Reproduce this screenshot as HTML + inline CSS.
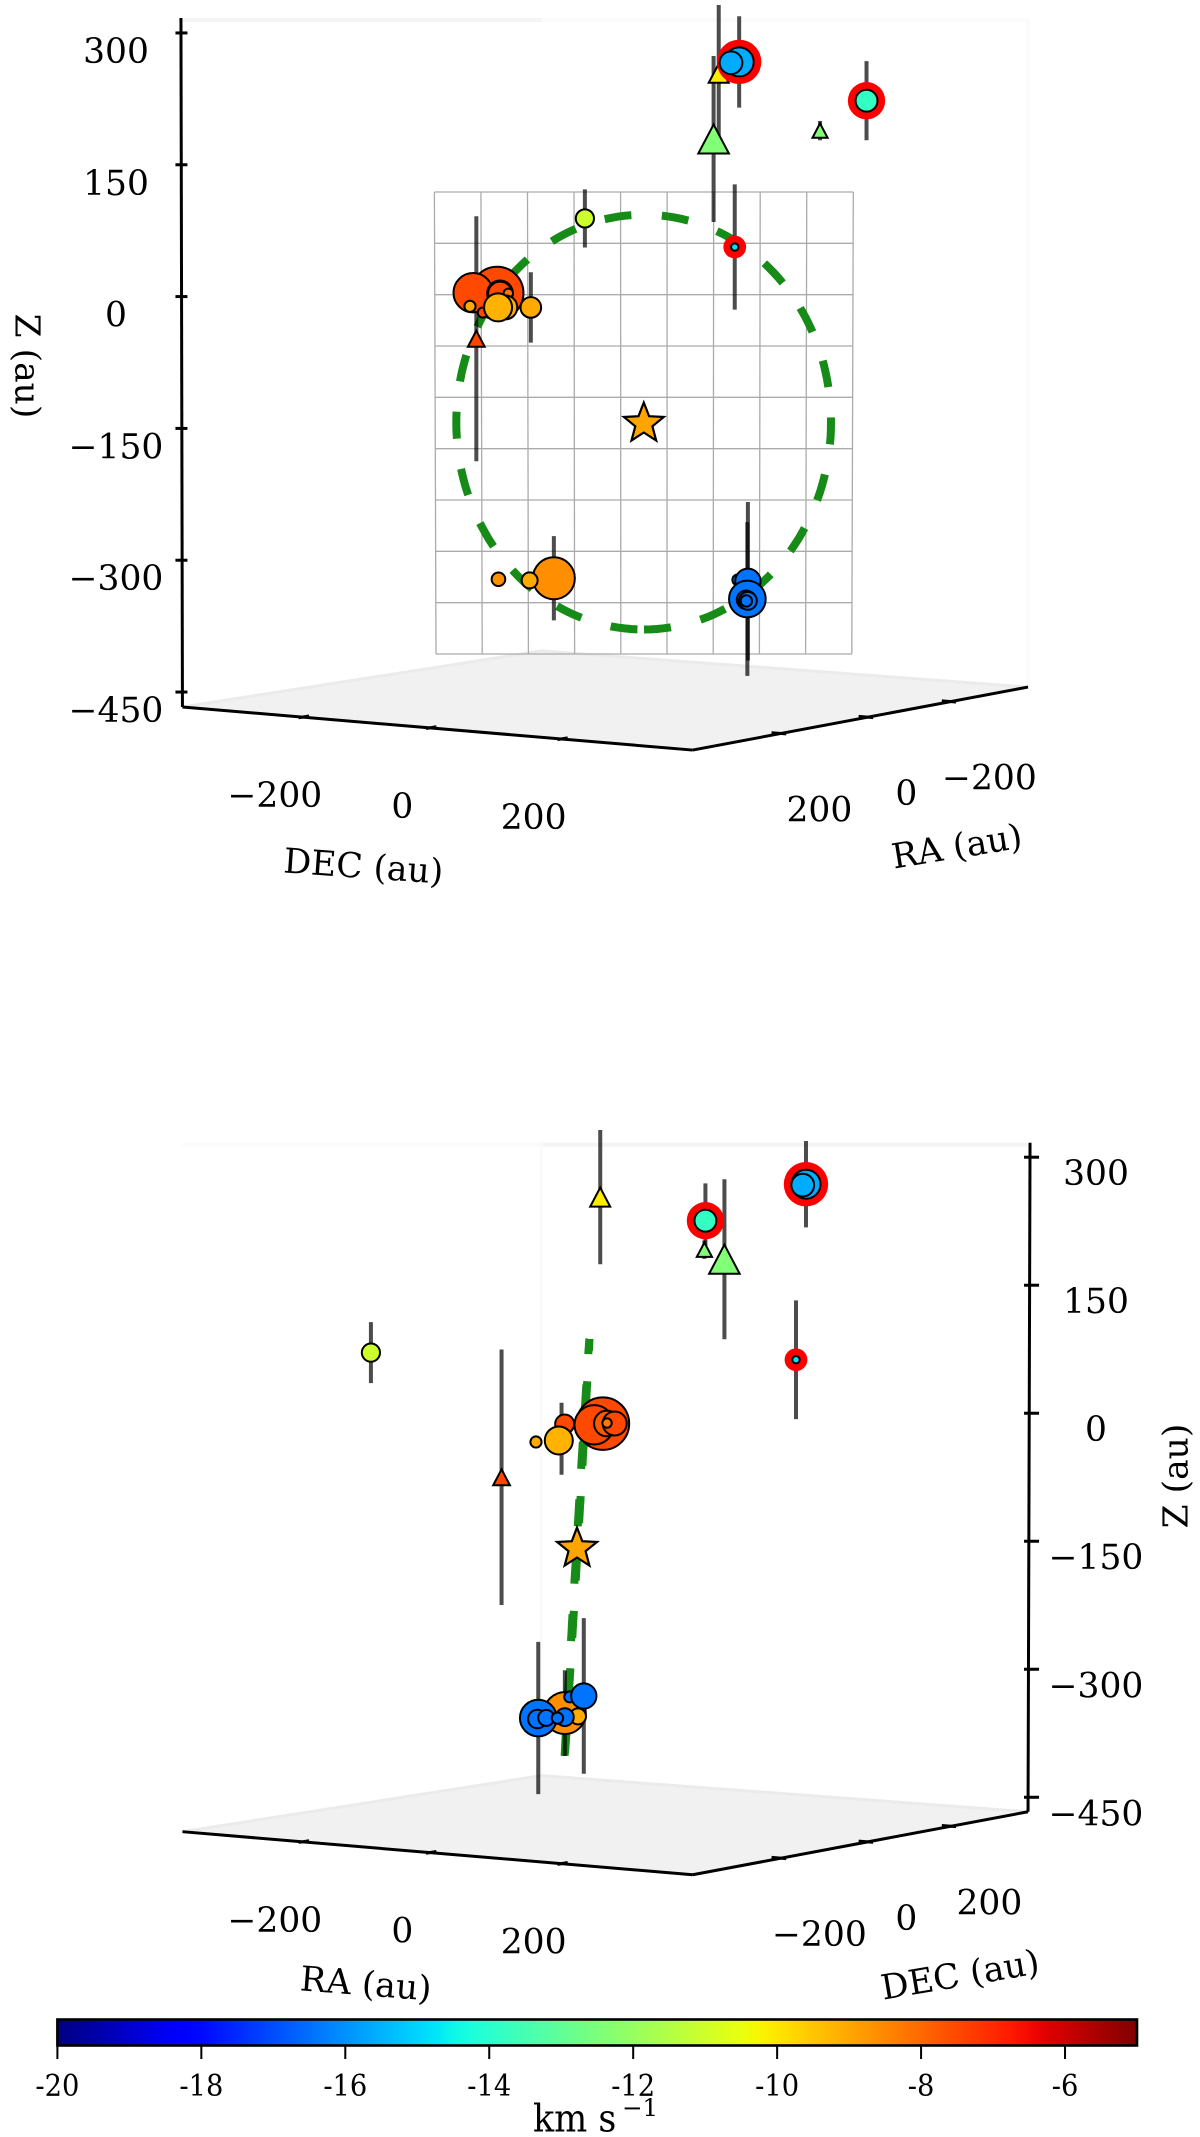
<!DOCTYPE html>
<html lang="en">
<head>
<meta charset="utf-8">
<title>Maser source positions in 3D</title>
<style>
  html, body { margin: 0; padding: 0; background: #fff; }
  svg { display: block; }
  text { font-family: "DejaVu Serif", "Liberation Serif", serif; fill: #000; }
  .tick { font-size: 34.5px; text-anchor: middle; }
  .title { font-size: 34.5px; text-anchor: middle; }
  .cb { font-size: 29.7px; text-anchor: middle; }
</style>
</head>
<body>
<svg id="chart" xmlns="http://www.w3.org/2000/svg" width="1200" height="2137" viewBox="0 0 1200 2137">
  <rect width="1200" height="2137" fill="#fff"/>
  <defs>
    <linearGradient id="jetGrad" x1="0" x2="1" y1="0" y2="0"></linearGradient>
  </defs>
  <g id="viewA"></g>
  <g id="viewB"></g>
  <text class="title" transform="translate(15.5,366) rotate(90)">Z (au)</text>
  <text class="title" transform="translate(362.6,878) rotate(4)">DEC (au)</text>
  <text class="title" transform="translate(958.8,858) rotate(-9.3)">RA (au)</text>
  <text class="title" transform="translate(1187.4,1476) rotate(-90)">Z (au)</text>
  <text class="title" transform="translate(365,1995.4) rotate(4.5)">RA (au)</text>
  <text class="title" transform="translate(962,1986.4) rotate(-9.6)">DEC (au)</text>
  <g id="colorbar"></g>
  <text transform="translate(533,2131.5) scale(0.92,1)" font-size="38">km s</text>
  <text x="622" y="2116" font-size="24.5">−1</text>
</svg>
<script>
// ---- Source catalogue (au, km/s) ----
const ra    = [42, 76, 85, 78, 86, 72, 42, 25, 8, 28, 30, -12, 36, -6, 26, -140, -132, -182, -182, -174, -153, -160, -234, 112, -92, 48, -50, -82, 120, 122];
const dec   = [-164, -128, -160, -122, -116, -113, -176, -152, -123, -207, -160, -226, -155, -96, -112, 104, 125, 91, 89, 98, 111, 104, -207, 267, 106, 192, 290, 340, 279, 268];
const zPos  = [-1, -1, -1, -1, -1, -1, -26, -20, -20, -20, -20, -60, -336, -335, -336, -337, -337, -363, -364, -363, -362, -363, 76, 61, 253, 180, 189, 223, 268, 267];
const zErr  = [0, 0, 0, 0, 0, 0, 0, 0, 41, 0, 0, 144, 0, 49, 0, 0, 92, 90, 0, 0, 0, 0, 35, 70, 79, 94, 11, 45, 51, 0];
const vlsr  = [-7.5, -7.5, -7.5, -7.77, -7.5, -8.25, -7.5, -9.1, -9.05, -9.05, -9.2, -7.45, -8.6, -8.6, -9.05, -16.44, -16.44, -16.44, -16.44, -16.44, -16.44, -16.44, -11.03, -14.8, -10.1, -12.4, -12.4, -13.8, -15.6, -15.6];
const flux  = [22.6, 173, 97, 41, 36, 5.5, 6.3, 36, 26.5, 7.8, 49, 17.6, 11.6, 110, 16, 7.6, 40, 84, 21.6, 16, 20, 8, 20.7, 3.4, 25, 58.5, 14.4, 30, 52.6, 32.5];
const shape = ["c","c","c","c","c","c","c","c","c","c","c","t","c","c","c","c","c","c","c","c","c","c","c","c","t","t","t","c","c","c"];
const ringed = [0,0,0,0,0,0,0,0,0,0,0,0,0,0,0,0,0,0,0,0,0,0,0,1,0,0,0,1,1,0];

// Central star and the fitted ring (au)
const starPos = [-61, 9, -153];
const ringU = [-141, 200, 0];
const ringV = [13.4, 9, 242];

// Axis tick values
const zTicks = [300, 150, 0, -150, -300, -450];
const skyTicks = [-200, 0, 200];
const cbTicks = [-20, -18, -16, -14, -12, -10, -8, -6];
const gridCols = 9;
const gridRows = 9;

// ---- Axis functions ----
const LIM = 394, Z_TOP = 317, Z_FLOOR = -467;
const CB_MIN = -20, CB_MAX = -5;
const SVGNS = "http://www.w3.org/2000/svg";

function viewCoords(view, raVal, decVal) {
  return view.rotated ? [-decVal / LIM, raVal / LIM] : [raVal / LIM, decVal / LIM];
}
function projectUnit(view, p, q, z) {
  const depth = 1.473 - 0.0643 * p - 0.0427 * q;
  const x = (900.65 - 295.2 * p + 340.65 * q) / depth;
  const y = view.top + 1000 * (Z_TOP - z) / (Z_TOP - Z_FLOOR) / depth;
  return [x, y];
}
function project(view, raVal, decVal, z) {
  const c = viewCoords(view, raVal, decVal);
  return projectUnit(view, c[0], c[1], z);
}
function radiusFromFlux(s) { return 2 * Math.sqrt(s); }
function cbX(v) { return 57.4 + (v - CB_MIN) / (CB_MAX - CB_MIN) * 1079.6; }

function pw(t, xs, ys) {
  if (t <= xs[0]) return ys[0];
  for (let i = 1; i < xs.length; i++) {
    if (t <= xs[i]) return ys[i - 1] + (ys[i] - ys[i - 1]) * (t - xs[i - 1]) / (xs[i] - xs[i - 1]);
  }
  return ys[ys.length - 1];
}
function jet(t) {
  const r = pw(t, [0, .35, .66, .89, 1], [0, 0, 1, 1, .5]);
  const g = pw(t, [0, .125, .375, .64, .91, 1], [0, 0, 1, 1, 0, 0]);
  const b = pw(t, [0, .11, .34, .65, 1], [.5, 1, 1, 0, 0]);
  return "rgb(" + Math.round(r * 255) + "," + Math.round(g * 255) + "," + Math.round(b * 255) + ")";
}
function velColor(v) { return jet((v - CB_MIN) / (CB_MAX - CB_MIN)); }

function mk(parent, tag, attrs, txt) {
  const e = document.createElementNS(SVGNS, tag);
  for (const k in attrs) e.setAttribute(k, attrs[k]);
  if (txt !== undefined) e.textContent = txt;
  parent.appendChild(e);
  return e;
}
function pts(list) { return list.map(function (a) { return a[0].toFixed(1) + "," + a[1].toFixed(1); }).join(" "); }
function minusText(v) { return v < 0 ? "\u2212" + Math.abs(v) : String(v); }

function drawPanel(view) {
  const g = document.getElementById(view.id);
  const left = projectUnit(view, 1, -1, Z_FLOOR);
  const front = projectUnit(view, 1, 1, Z_FLOOR);
  const right = projectUnit(view, -1, 1, Z_FLOOR);
  const back = projectUnit(view, -1, -1, Z_FLOOR);
  const backTop = projectUnit(view, -1, -1, Z_TOP);
  const leftTop = projectUnit(view, 1, -1, Z_TOP);
  const rightTop = projectUnit(view, -1, 1, Z_TOP);

  // panes
  const s1 = mk(g, "rect", { x: leftTop[0], y: view.top, width: backTop[0] - leftTop[0], height: 4, fill: view.rotated ? "#fbfbfb" : "#f5f5f5" });
  
  
  const s2 = mk(g, "rect", { x: backTop[0], y: view.top, width: rightTop[0] - backTop[0], height: 4, fill: view.rotated ? "#f4f4f4" : "#fbfbfb" });
  
  
  const paneX = view.rotated ? back[0] : right[0];
  const paneY = view.rotated ? back[1] : right[1];
  const s3 = mk(g, "line", { x1: paneX, y1: view.top, x2: paneX, y2: paneY, stroke: "#fafafa", "stroke-width": 3 });
  
  

  // floor
  const floor = mk(g, "polygon", { points: pts([left, front, right, back]), fill: "#f1f1f1" });
  
  
  const floorBack = mk(g, "polyline", { points: pts([left, back, right]), fill: "none", stroke: "#ebebeb", "stroke-width": 3 });
  
  

  // reference grid (panel A only)
  if (!view.rotated) {
    const gt = 192, gb = 654;
    const xAt = function (i, f) {
      const a = 434.4 + (853.3 - 434.4) * i / gridCols;
      const b = 436 + (851.8 - 436) * i / gridCols;
      return a + (b - a) * f;
    };
    for (let i = 0; i <= gridCols; i++) {
      const v = mk(g, "line", { x1: xAt(i, 0), y1: gt, x2: xAt(i, 1), y2: gb, stroke: "#ababab", "stroke-width": 1.3 });
      
      
    }
    for (let j = 0; j <= gridRows; j++) {
      const f = j / gridRows;
      const h = mk(g, "line", { x1: xAt(0, f), y1: gt + (gb - gt) * f, x2: xAt(gridCols, f), y2: gt + (gb - gt) * f, stroke: "#ababab", "stroke-width": 1.3 });
      
      
    }
  }

  // dashed ring: path starts at the bottom of the ring
  const ringPts = [];
  for (let a = 0; a <= 360; a += 2) {
    const th = a * Math.PI / 180;
    const c = -Math.cos(th), s = Math.sin(th);
    ringPts.push(project(view,
      starPos[0] + s * ringU[0] + c * ringV[0],
      starPos[1] + s * ringU[1] + c * ringV[1],
      starPos[2] + s * ringU[2] + c * ringV[2]));
  }
  const ring = mk(g, "polyline", { points: pts(ringPts), fill: "none", stroke: "#178b17", "stroke-width": 8, "stroke-dasharray": "27 30.5" });
  
  

  // black axes
  const axisCorner = view.rotated ? right : left;
  const axisTop = view.rotated ? rightTop : leftTop;
  const zAxis = mk(g, "line", { x1: axisTop[0] + (view.rotated ? 2 : -1.5), y1: view.top, x2: axisCorner[0], y2: axisCorner[1], stroke: "#000", "stroke-width": 3 });
  
  
  const edge1 = mk(g, "line", { x1: left[0], y1: left[1], x2: front[0], y2: front[1], stroke: "#000", "stroke-width": 3 });
  
  
  const edge2 = mk(g, "line", { x1: front[0], y1: front[1], x2: right[0], y2: right[1], stroke: "#000", "stroke-width": 3 });
  
  

  // z ticks
  zTicks.forEach(function (t) {
    const c = view.rotated ? [-1, 1] : [1, -1];
    const p = projectUnit(view, c[0], c[1], t);
    const x0 = view.rotated ? p[0] - 4 : p[0] - 7;
    const x1 = view.rotated ? p[0] + 11 : p[0] + 5;
    const tick = mk(g, "line", { x1: x0, y1: p[1], x2: x1, y2: p[1], stroke: "#000", "stroke-width": 3 });
    
    
    const lab = mk(g, "text", { class: "tick", x: view.rotated ? 1096 : 116, y: p[1] + (view.rotated ? 28 : 30) }, minusText(t));
    
    
  });

  // horizontal ticks: front-left edge and front-right edge
  skyTicks.forEach(function (t) {
    const u = t / LIM;
    const a0 = projectUnit(view, 1.02, u, Z_FLOOR);
    const a1 = projectUnit(view, 0.965, u, Z_FLOOR);
    const a = projectUnit(view, 1, u, Z_FLOOR);
    const tickA = mk(g, "line", { x1: a0[0], y1: a0[1], x2: a1[0], y2: a1[1], stroke: "#000", "stroke-width": 3 });
    
    
    const labA = mk(g, "text", { class: "tick", x: a[0] - 27.5, y: a[1] + 90 }, minusText(t));
    
    

    const pb = view.rotated ? -u : u;
    const b0 = projectUnit(view, pb, 1.02, Z_FLOOR);
    const b1 = projectUnit(view, pb, 0.965, Z_FLOOR);
    const b = projectUnit(view, pb, 1, Z_FLOOR);
    const tickB = mk(g, "line", { x1: b0[0], y1: b0[1], x2: b1[0], y2: b1[1], stroke: "#000", "stroke-width": 3 });
    
    
    const labB = mk(g, "text", { class: "tick", x: b[0] + 38.5, y: b[1] + 88 }, minusText(t));
    
    
  });

  // error bars under all markers
  for (let i = 0; i < ra.length; i++) {
    if (!zErr[i]) continue;
    const a = project(view, ra[i], dec[i], zPos[i] + zErr[i]);
    const b = project(view, ra[i], dec[i], zPos[i] - zErr[i]);
    const bar = mk(g, "line", { x1: a[0], y1: a[1], x2: b[0], y2: b[1], stroke: "#000", "stroke-opacity": 0.7, "stroke-width": 4 });
    
    
  }

  // star
  const sp = project(view, starPos[0], starPos[1], starPos[2]);
  const starPts = [];
  for (let k = 0; k < 10; k++) {
    const R = k % 2 ? 9 : 21;
    const ang = -Math.PI / 2 + k * Math.PI / 5;
    starPts.push([sp[0] + R * Math.cos(ang), sp[1] + 1 + R * Math.sin(ang)]);
  }
  const star = mk(g, "polygon", { points: pts(starPts), fill: "#ffa500", stroke: "#000", "stroke-width": 2.2, "stroke-linejoin": "miter" });
  
  

  // sources
  for (let i = 0; i < ra.length; i++) {
    const p = project(view, ra[i], dec[i], zPos[i]);
    const r = radiusFromFlux(flux[i]);
    if (ringed[i]) {
      const halo = mk(g, "circle", { cx: p[0], cy: p[1], r: r + 7.7, fill: "#ff0000" });
      
      
    }
    if (shape[i] === "t") {
      const h = r * 0.95;
      const tri = mk(g, "polygon", { points: pts([[p[0], p[1] - h], [p[0] + r, p[1] + h], [p[0] - r, p[1] + h]]), fill: velColor(vlsr[i]), stroke: "#000", "stroke-width": 2 });
      
      
    } else {
      const cir = mk(g, "circle", { cx: p[0], cy: p[1], r: r, fill: velColor(vlsr[i]), stroke: "#000", "stroke-width": 2 });
      
      
    }
  }
}

drawPanel({ id: "viewA", top: 18, rotated: false });
drawPanel({ id: "viewB", top: 1142.7, rotated: true });

// colorbar
(function () {
  const grad = document.getElementById("jetGrad");
  for (let i = 0; i <= 60; i++) {
    const t = i / 60;
    mk(grad, "stop", { offset: t, "stop-color": jet(t) });
  }
  const g = document.getElementById("colorbar");
  const bar = mk(g, "rect", { x: cbX(CB_MIN), y: 2019.5, width: cbX(CB_MAX) - cbX(CB_MIN), height: 26, fill: "url(#jetGrad)", stroke: "#000", "stroke-width": 2.6 });
  
  
  cbTicks.forEach(function (t) {
    const x = cbX(t);
    const tick = mk(g, "line", { x1: x, y1: 2046, x2: x, y2: 2059, stroke: "#000", "stroke-width": 2 });
    
    
    const lab = mk(g, "text", { class: "cb", transform: "translate(" + x + ",2096) scale(0.92,1)" }, String(t));
    
    
  });
})();
</script>
</body>
</html>
